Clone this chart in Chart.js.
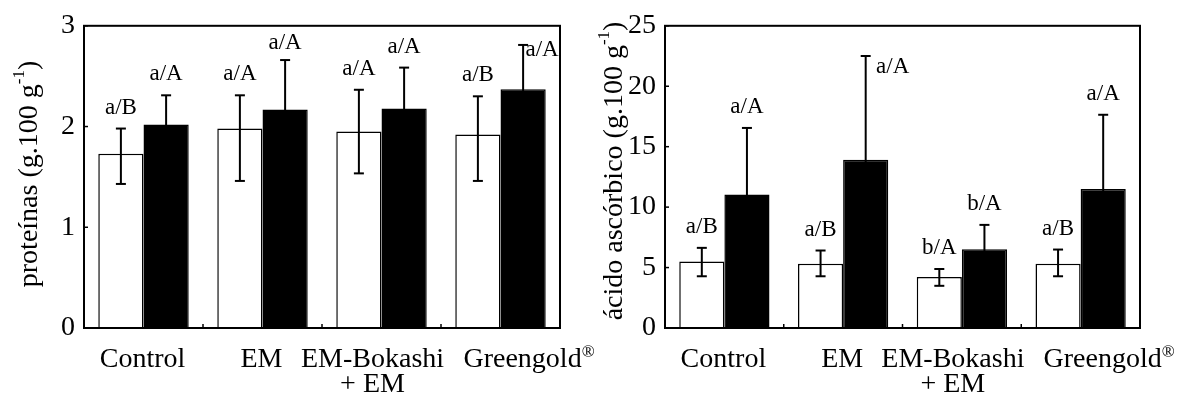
<!DOCTYPE html>
<html><head><meta charset="utf-8">
<script src="https://cdn.jsdelivr.net/npm/chart.js@4/dist/chart.umd.min.js"></script>
<style>
html,body{margin:0;padding:0;background:#fff;width:1177px;height:401px;overflow:hidden;}
.box{position:absolute;top:0;height:401px;}
#b1{left:0;width:600px;}
#b2{left:590px;width:587px;}
</style></head><body>
<div class="box" id="b1"><canvas id="c1"></canvas></div>
<div class="box" id="b2"><canvas id="c2"></canvas></div>
<script>
// ---------- data ----------
const categories = [['Control'], ['EM'], ['EM-Bokashi', '+ EM'], ['Greengold®']];

const proteinTicks = [0, 1, 2, 3];
const proteinA     = [1.73, 1.98, 1.95, 1.92];
const proteinAHigh = [1.98, 2.31, 2.365, 2.30];
const proteinALow  = [1.43, 1.46, 1.535, 1.46];
const proteinB     = [2.02, 2.17, 2.18, 2.37];
const proteinBHigh = [2.31, 2.66, 2.585, 2.81];
const proteinBLow  = [1.73, 1.68, 1.775, 1.93];
const proteinLettersA = ['a/B', 'a/A', 'a/A', 'a/B'];
const proteinLettersB = ['a/A', 'a/A', 'a/A', 'a/A'];

const ascorbicTicks = [0, 5, 10, 15, 20, 25];
const ascorbicA     = [5.51, 5.32, 4.22, 5.32];
const ascorbicAHigh = [6.63, 6.41, 4.88, 6.49];
const ascorbicALow  = [4.28, 4.28, 3.49, 4.28];
const ascorbicB     = [11.04, 13.91, 6.51, 11.50];
const ascorbicBHigh = [16.55, 22.50, 8.53, 17.64];
const ascorbicBLow  = [5.53, 5.32, 4.49, 5.36];
const ascorbicLettersA = ['a/B', 'a/B', 'b/A', 'a/B'];
const ascorbicLettersB = ['a/A', 'a/A', 'b/A', 'a/A'];

// ---------- drawing ----------
const FONT = '"Liberation Serif", "Times New Roman", serif';
const MAIN = 28, SUP = 17, ANN = 23;

function partsWidth(ctx, parts) {
  let w = 0;
  parts.forEach(p => { ctx.font = (p.sup ? SUP : MAIN) + 'px ' + FONT; w += ctx.measureText(p.t).width; });
  return w;
}
function drawParts(ctx, parts, x, y, raise) {
  parts.forEach(p => {
    ctx.font = (p.sup ? SUP : MAIN) + 'px ' + FONT;
    ctx.fillText(p.t, x, p.sup ? y - raise : y);
    x += ctx.measureText(p.t).width;
  });
}
function splitReg(s) {
  const i = s.indexOf('®');
  if (i < 0) return [{t: s}];
  return [{t: s.slice(0, i)}, {t: '®', sup: true}, {t: s.slice(i + 1)}].filter(p => p.t);
}

const deco = {
  id: 'deco',
  afterDatasetsDraw(chart, args, o) {
    const ctx = chart.ctx, ca = chart.chartArea, xs = chart.scales.x, ys = chart.scales.y;
    const line = (x1, y1, x2, y2) => { ctx.beginPath(); ctx.moveTo(x1, y1); ctx.lineTo(x2, y2); ctx.stroke(); };
    ctx.save();
    ctx.strokeStyle = '#000'; ctx.fillStyle = '#000';
    // frame
    ctx.lineWidth = 2;
    ctx.strokeRect(ca.left, ca.top, ca.right - ca.left, ca.bottom - ca.top);
    // inward y ticks
    ctx.lineWidth = 1.5;
    ys.ticks.forEach(t => { const y = ys.getPixelForValue(t.value); line(ca.left, y, ca.left + 4, y); });
    // category boundary ticks
    const n = chart.data.labels.length;
    for (let i = 0; i < n - 1; i++) {
      const x = (xs.getPixelForValue(i) + xs.getPixelForValue(i + 1)) / 2;
      line(x, ca.bottom, x, ca.bottom - 4);
    }
    // error bars + letters
    chart.data.datasets.forEach((ds, di) => {
      const meta = chart.getDatasetMeta(di);
      meta.data.forEach((el, i) => {
        const yh = ys.getPixelForValue(ds.errHigh[i]);
        const yl = ys.getPixelForValue(ds.errLow[i]);
        ctx.lineWidth = 2;
        line(el.x, yl, el.x, yh);
        line(el.x - 5, yh, el.x + 5, yh);
        line(el.x - 5, yl, el.x + 5, yl);
        const sh = (o.shift[di] && o.shift[di][i]) || [0, 0];
        ctx.font = ANN + 'px ' + FONT;
        ctx.textAlign = 'center'; ctx.textBaseline = 'alphabetic';
        ctx.fillText(ds.letters[i], el.x + sh[0], yh - 15 + sh[1]);
      });
    });
    // category labels
    ctx.textAlign = 'left'; ctx.textBaseline = 'alphabetic';
    chart.data.labels.forEach((lab, i) => {
      const cx = xs.getPixelForValue(i) + o.labelDx[i];
      lab.forEach((ln, k) => {
        const parts = splitReg(ln);
        const w = partsWidth(ctx, parts);
        drawParts(ctx, parts, cx - w / 2, ca.bottom + 38.5 + k * 25, 10);
      });
    });
    // y title
    const w = partsWidth(ctx, o.title);
    ctx.translate(o.titleX, o.titleCY);
    ctx.rotate(-Math.PI / 2);
    drawParts(ctx, o.title, -w / 2, 0, 13);
    ctx.restore();
  }
};

function makeChart(id, cfg) {
  return new Chart(document.getElementById(id), {
    type: 'bar',
    data: {
      labels: categories,
      datasets: [
        { data: cfg.a, errHigh: cfg.aHigh, errLow: cfg.aLow, letters: cfg.la,
          backgroundColor: '#ffffff', borderColor: '#000', borderWidth: 1.5,
          barPercentage: 1, categoryPercentage: 0.76 },
        { data: cfg.b, errHigh: cfg.bHigh, errLow: cfg.bLow, letters: cfg.lb,
          backgroundColor: '#000000', borderColor: '#000', borderWidth: 1.5,
          barPercentage: 1, categoryPercentage: 0.76 }
      ]
    },
    options: {
      responsive: true, maintainAspectRatio: false, animation: false,
      layout: { padding: { top: 22.7, right: cfg.padRight, left: 0, bottom: 0 } },
      plugins: {
        legend: { display: false }, tooltip: { enabled: false },
        deco: { shift: cfg.shift, labelDx: [-1, -1, -9, 28.5], title: cfg.title,
                titleX: cfg.titleX, titleCY: cfg.titleCY }
      },
      scales: {
        x: {
          grid: { display: false, drawTicks: false }, border: { display: false },
          ticks: { display: false },
          afterFit: s => { s.height = 73; }
        },
        y: {
          min: 0, max: cfg.ticks[cfg.ticks.length - 1],
          afterBuildTicks: s => { s.ticks = cfg.ticks.map(v => ({ value: v })); },
          grid: { display: false, drawTicks: false }, border: { display: false },
          ticks: { color: '#000', padding: 9, font: { family: FONT, size: MAIN } },
          afterFit: s => { s.width = cfg.yWidth; }
        }
      }
    },
    plugins: [deco]
  });
}

makeChart('c1', {
  a: proteinA, aHigh: proteinAHigh, aLow: proteinALow, la: proteinLettersA,
  b: proteinB, bHigh: proteinBHigh, bLow: proteinBLow, lb: proteinLettersB,
  ticks: proteinTicks, yWidth: 84, padRight: 40,
  shift: { 1: { 1: [0, 4], 3: [19, 26] } },
  title: [{ t: 'proteínas (g.100 g' }, { t: '-1', sup: true }, { t: ')' }],
  titleX: 37, titleCY: 174
});
makeChart('c2', {
  a: ascorbicA, aHigh: ascorbicAHigh, aLow: ascorbicALow, la: ascorbicLettersA,
  b: ascorbicB, bHigh: ascorbicBHigh, bLow: ascorbicBLow, lb: ascorbicLettersB,
  ticks: ascorbicTicks, yWidth: 75, padRight: 37,
  shift: { 1: { 1: [27, 32] } },
  title: [{ t: 'ácido ascórbico (g.100 g' }, { t: '-1', sup: true }, { t: ')' }],
  titleX: 32, titleCY: 171
});
</script>
</body></html>
